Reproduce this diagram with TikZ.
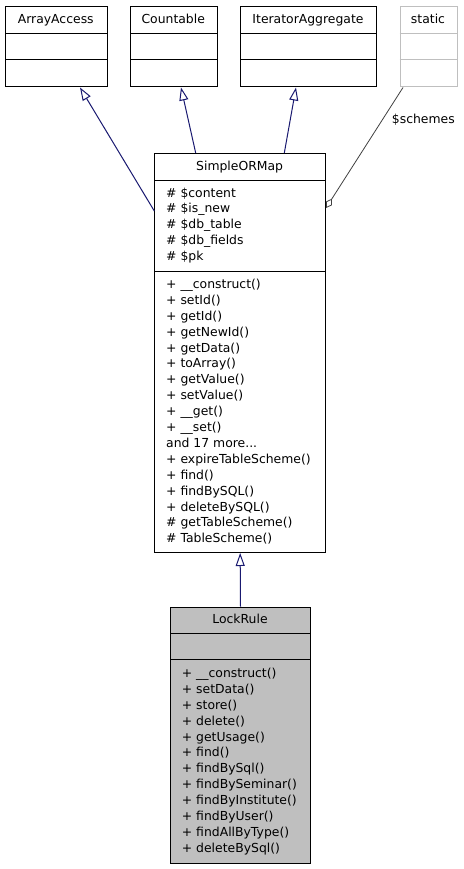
\documentclass[tikz,border=0pt]{standalone}
\usepackage{fontspec}
\setmainfont{DejaVu Sans}
\usetikzlibrary{arrows.meta,calc}
\definecolor{navy}{HTML}{191970}
\definecolor{lgray}{HTML}{BFBFBF}
\definecolor{dgray}{HTML}{404040}
\newcommand{\dfont}{\fontsize{12.4}{15.9}\selectfont}
\newcommand{\moredots}{...}
\begin{document}
\begin{tikzpicture}[x=1pt,y=-1pt,
  cls/.style={draw=black, line width=1pt, fill=white, inner sep=0pt, anchor=north west},
  txt/.style={inner sep=0pt, font=\dfont},
  inh/.style={draw=navy, line width=1pt, -{Triangle[open,length=13pt,width=9pt]}},
  agg/.style={draw=dgray, line width=0.8pt, -{Diamond[open,length=11pt,width=7pt]}}]
\useasboundingbox (0,0) rectangle (463,869);
% top classes
\node[cls, minimum width=101.5pt, minimum height=80pt] (aa) at (5,6.5) {};
\node[cls, minimum width=86.5pt, minimum height=80pt] (ct) at (130,6.5) {};
\node[cls, minimum width=136pt, minimum height=80pt] (ia) at (240,6.5) {};
\node[cls, draw=lgray, minimum width=57pt, minimum height=80pt] (st) at (399.5,6.5) {};
\foreach \n in {aa,ct,ia}{
  \draw[line width=1pt] ([yshift=-26.8pt]\n.north west) -- ([yshift=-26.8pt]\n.north east);
  \draw[line width=1pt] ([yshift=-53.5pt]\n.north west) -- ([yshift=-53.5pt]\n.north east);
}
\draw[line width=1pt, lgray] ([yshift=-26.8pt]st.north west) -- ([yshift=-26.8pt]st.north east);
\draw[line width=1pt, lgray] ([yshift=-53.5pt]st.north west) -- ([yshift=-53.5pt]st.north east);
\node[txt, anchor=base] (aat) at (55.75,24) {ArrayAccess};
\node[txt, anchor=base] (ctt) at (173.25,24) {Countable};
\node[txt, anchor=base] (iat) at (308,24) {IteratorAggregate};
\node[txt, anchor=base] (stt) at (428,24) {static};
% SimpleORMap
\node[cls, minimum width=170.7pt, minimum height=399pt] (sm) at (154.3,153) {};
\draw[line width=1pt] ([yshift=-27pt]sm.north west) -- ([yshift=-27pt]sm.north east);
\draw[line width=1pt] ([yshift=-118pt]sm.north west) -- ([yshift=-118pt]sm.north east);
\node[txt, anchor=base] (smt) at (239.65,171) {SimpleORMap};
\foreach \t [count=\i from 0] in {\# \$content,\# \$is\_new,\# \$db\_table,\# \$db\_fields,\# \$pk}
  \node[txt, anchor=base west] (sma\i) at (166,197+\i*15.9) {\t};
\foreach \t [count=\i from 0] in {+ \_\_construct(),+ setId(),+ getId(),+ getNewId(),+ getData(),+ toArray(),+ getValue(),+ setValue(),+ \_\_get(),+ \_\_set(),and 17 more\moredots,+ expireTableScheme(),+ find(),+ findBySQL(),+ deleteBySQL(),\# getTableScheme(),\# TableScheme()}
  \node[txt, anchor=base west] (smm\i) at (166,288.4+\i*15.9) {\t};
% LockRule
\node[cls, fill=lgray, minimum width=140pt, minimum height=256pt] (lr) at (170,606.7) {};
\draw[line width=1pt] ([yshift=-26.3pt]lr.north west) -- ([yshift=-26.3pt]lr.north east);
\draw[line width=1pt] ([yshift=-52.3pt]lr.north west) -- ([yshift=-52.3pt]lr.north east);
\node[txt, anchor=base] (lrt) at (240,623.3) {LockRule};
\foreach \t [count=\i from 0] in {+ \_\_construct(),+ setData(),+ store(),+ delete(),+ getUsage(),+ find(),+ findBySql(),+ findBySeminar(),+ findByInstitute(),+ findByUser(),+ findAllByType(),+ deleteBySql()}
  \node[txt, anchor=base west] (lrm\i) at (181.7,677.4+\i*15.9) {\t};
% connectors
\draw[inh] ([yshift=-58pt]sm.north west) -- ([xshift=75pt]aa.south west);
\draw[inh] ([xshift=41.4pt]sm.north west) -- ([xshift=51pt]ct.south west);
\draw[inh] ([xshift=130pt]sm.north west) -- ([xshift=56pt]ia.south west);
\draw[agg] ([xshift=3.5pt]st.south west) -- ([yshift=-55pt]sm.north east);
\node[txt, anchor=base west] (lbl) at (391.7,123.3) {\$schemes};
\draw[inh] (lr.north) -- (sm.south);
\end{tikzpicture}
\end{document}
